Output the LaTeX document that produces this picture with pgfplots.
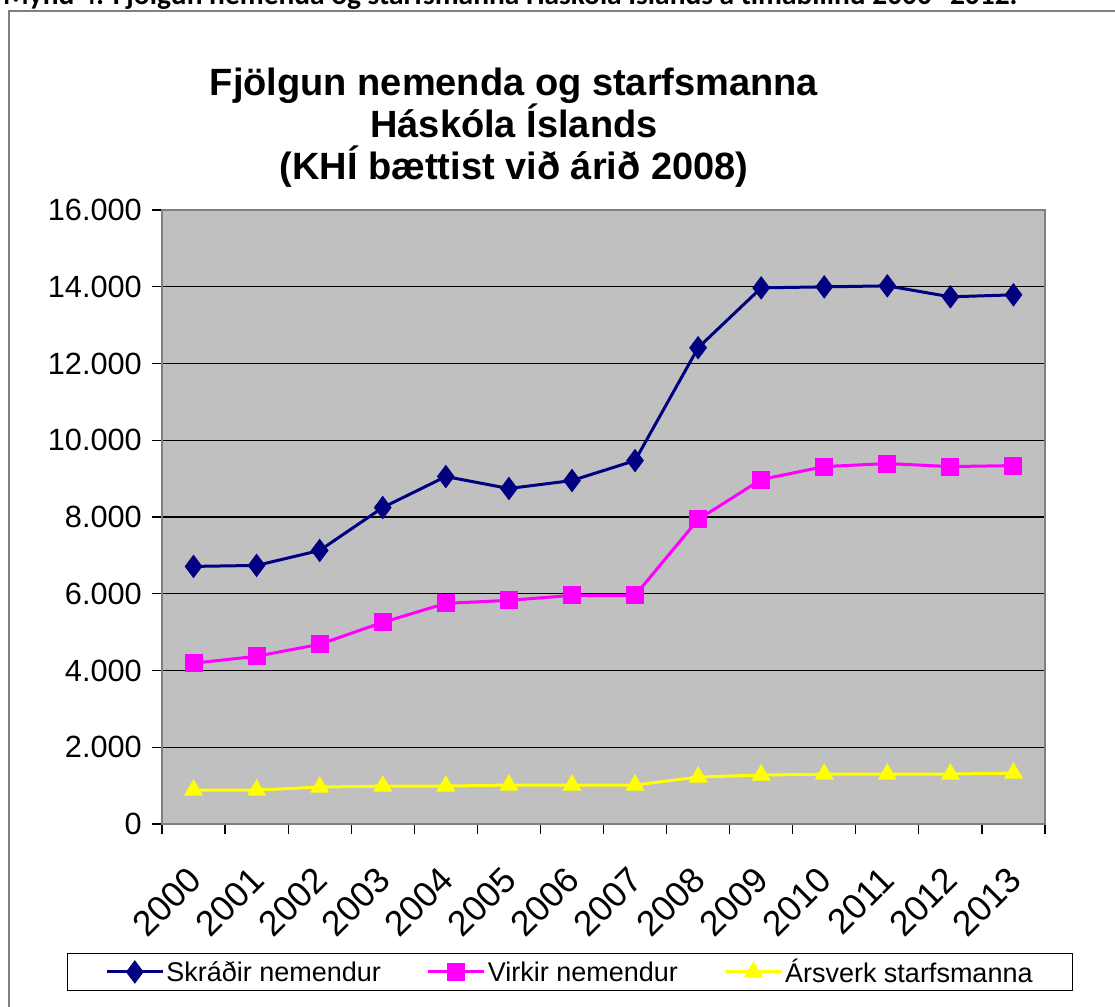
\documentclass[border=0pt]{standalone}
\usepackage{fontspec}
\setmainfont{Liberation Sans}
\newfontfamily\calibri{Carlito}
\usepackage{pgfplots}
\pgfplotsset{compat=1.18}
\definecolor{plotgray}{HTML}{C0C0C0}
\definecolor{navyc}{HTML}{000080}
\definecolor{magc}{HTML}{FF00FF}
\definecolor{yelc}{HTML}{FFFF00}
\definecolor{framegray}{HTML}{808080}
\begin{document}
\begin{tikzpicture}[x=1pt,y=1pt]
\useasboundingbox (0,0) rectangle (1115,1006);
\node[anchor=base west, inner sep=0pt] at (3,1001.5) {\resizebox{1014pt}{!}{\calibri\bfseries Mynd 4: Fjölgun nemenda og starfsmanna Háskóla Íslands á tímabilinu 2000--2012.}};
\draw[framegray, line width=1.5pt] (1130,995) -- (9,995) -- (9,-10);
\node[align=center, font=\bfseries\fontsize{38}{42}\selectfont] at (514,878) {Fjölgun nemenda og starfsmanna\\Háskóla Íslands\\(KHÍ bættist við árið 2008)};
\begin{axis}[
  at={(162pt,182pt)}, anchor=south west, scale only axis,
  width=883pt, height=614pt,
  xmin=-0.5, xmax=13.5, ymin=0, ymax=16000,
  scaled y ticks=false,
  axis background/.style={fill=plotgray},
  axis line style={draw=framegray, line width=1.5pt},
  xtick={-0.5,0.5,...,13.5},
  x tick label as interval,
  xticklabels={2000,2001,2002,2003,2004,2005,2006,2007,2008,2009,2010,2011,2012,2013},
  ytick={0,2000,4000,6000,8000,10000,12000,14000,16000},
  yticklabels={0,2.000,4.000,6.000,8.000,10.000,12.000,14.000,16.000},
  tick align=outside, major tick length=10pt,
  tick style={black, line width=1.2pt},
  xtick pos=bottom, ytick pos=left,
  yticklabel style={font=\fontsize{30.7}{34}\selectfont, anchor=east, inner sep=0pt, xshift=-10pt},
  xticklabel style={font=\fontsize{35.5}{40}\selectfont, yshift=-40pt, xshift=1pt, rotate=45, anchor=east, inner sep=0pt},
  ymajorgrids, major grid style={black, line width=1.2pt},
  legend columns=3,
  legend style={at={(0.462,-0.241)}, anchor=center, draw=black, line width=1pt, fill=white,
    font=\fontsize{27}{30}\selectfont, inner xsep=38pt, inner ysep=4pt,
    /tikz/every even column/.append style={column sep=44pt},
    nodes={inner sep=2pt}},
  legend image code/.code={\draw[mark repeat=2,mark phase=2,#1] plot coordinates {(0pt,0pt) (28pt,0pt) (56pt,0pt)};},
]
\addplot[navyc, line width=3pt, mark=diamond*, mark size=11pt, mark options={solid, fill=navyc, line width=1pt}] coordinates {
(0,6712) (1,6738) (2,7128) (3,8247) (4,9054) (5,8742) (6,8950) (7,9470) (8,12410) (9,13971) (10,13997) (11,14023) (12,13737) (13,13789)};
\addlegendentry{Skráðir nemendur}
\addplot[magc, line width=3pt, mark=square*, mark size=8.5pt, mark options={solid, fill=magc, line width=1pt}] coordinates {
(0,4189) (1,4371) (2,4683) (3,5255) (4,5750) (5,5828) (6,5958) (7,5958) (8,7935) (9,8976) (10,9314) (11,9392) (12,9314) (13,9340)};
\addlegendentry{Virkir nemendur}
\addplot[yelc, line width=3pt, mark=triangle*, mark size=10pt, mark options={solid, fill=yelc, line width=1pt}] coordinates {
(0,885) (1,885) (2,962) (3,988) (4,988) (5,1015) (6,1015) (7,1015) (8,1223) (9,1275) (10,1300) (11,1300) (12,1300) (13,1327)};
\addlegendentry{Ársverk starfsmanna}
\end{axis}
\end{tikzpicture}
\end{document}
